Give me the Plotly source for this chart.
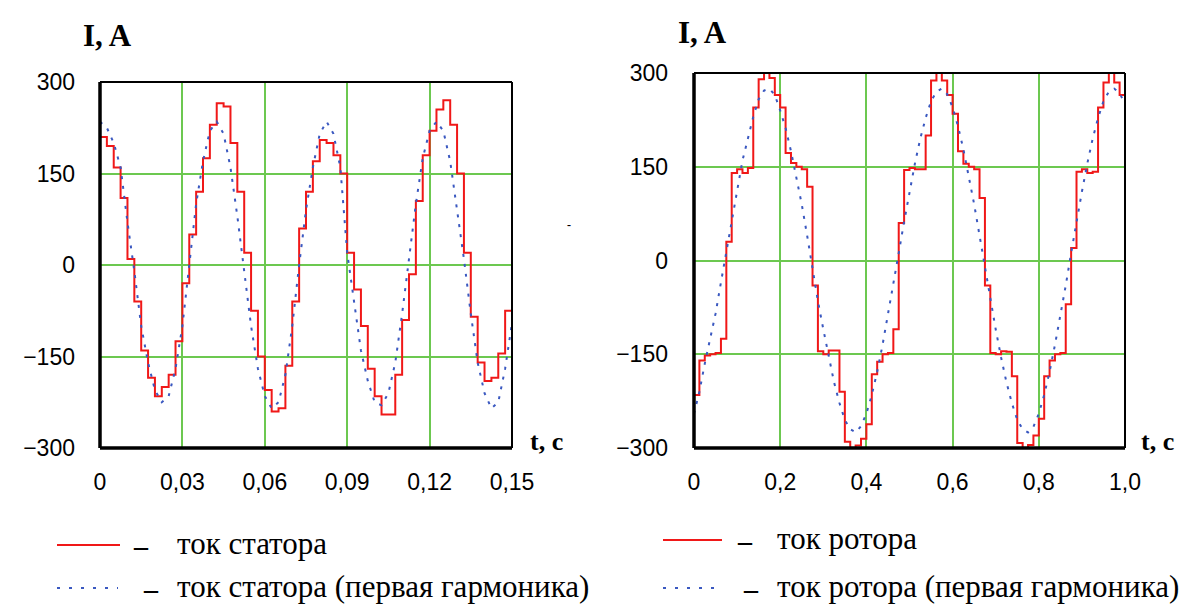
import plotly.graph_objects as go

# ---------------- data: stator (left panel) ----------------
t_stator = [i * 0.0025 for i in range(61)]  # time grid, s (0 ... 0.15)
i_stator = [210, 195, 160, 110, 10, -60, -140, -185, -215, -200,
            -180, -125, -30, 50, 120, 175, 230, 265, 260, 200,
            120, 20, -75, -150, -205, -240, -235, -165, -60, 60,
            120, 170, 205, 200, 180, 150, 20, -40, -100, -170,
            -215, -245, -245, -180, -90, -15, 105, 180, 220, 255,
            270, 230, 150, 20, -85, -160, -190, -185, -145, -75,
            -10]
i_stator_h1 = [235, 225, 200, 160, 70, -10, -100, -160, -205, -225,
               -215, -170, -100, 0, 100, 170, 220, 235, 215, 160,
               80, -10, -100, -170, -215, -235, -225, -180, -100, 0,
               90, 160, 215, 235, 215, 160, 20, -60, -140, -190,
               -225, -230, -210, -160, -80, 10, 100, 175, 220, 235,
               220, 170, 90, 10, -80, -160, -210, -235, -225, -170,
               -95]

# ---------------- data: rotor (right panel) ----------------
t_rotor = [i * 0.0125 for i in range(81)]  # time grid, s (0 ... 1.0)
i_rotor = [-215, -160, -152, -150, -148, -125, 30, 140, 146, 140,
           148, 245, 290, 300, 292, 265, 245, 172, 156, 150,
           146, 118, -40, -145, -150, -144, -144, -210, -290, -300,
           -296, -285, -262, -182, -162, -150, -148, -110, 60, 145,
           148, 146, 146, 200, 288, 300, 288, 265, 235, 175,
           155, 150, 146, 100, -40, -148, -150, -145, -146, -185,
           -292, -300, -295, -280, -253, -185, -160, -150, -148, -70,
           20, 142, 146, 140, 142, 245, 285, 302, 285, 265,
           247]
i_rotor_h1 = [-245, -210, -165, -125, -85, -35, 15, 65, 115, 160,
              195, 230, 258, 272, 275, 265, 240, 212, 175, 135,
              90, 40, -15, -65, -110, -155, -195, -228, -255, -270,
              -275, -265, -245, -215, -178, -135, -88, -40, 12, 62,
              110, 155, 195, 228, 255, 270, 275, 266, 245, 215,
              178, 135, 90, 40, -12, -62, -110, -155, -195, -228,
              -255, -270, -275, -266, -245, -215, -178, -135, -90, -40,
              12, 62, 110, 155, 195, 228, 255, 270, 275, 268,
              250]

# ---------------- tick labels ----------------
x1_ticks = [0, 0.03, 0.06, 0.09, 0.12, 0.15]
x1_text = ["0", "0,03", "0,06", "0,09", "0,12", "0,15"]
x2_ticks = [0, 0.2, 0.4, 0.6, 0.8, 1.0]
x2_text = ["0", "0,2", "0,4", "0,6", "0,8", "1,0"]
y_ticks = [-300, -150, 0, 150, 300]
y_text = ["\u2212300", "\u2212150", "0", "150", "300"]

legend_left = ["ток статора", "ток статора (первая гармоника)"]
legend_right = ["ток ротора", "ток ротора (первая гармоника)"]

RED = "#f01818"
BLUE = "#3a58c0"
GREEN = "#6cc850"
OFF = 8  # page body margin
W, H = 1187 - OFF, 610 - OFF

TICKFONT = dict(family="Liberation Sans, Arial, sans-serif", size=23, color="black")
SERIF = "Liberation Serif, Times New Roman, serif"

fig = go.Figure()
fig.add_trace(go.Scatter(x=t_stator, y=i_stator, mode="lines", line=dict(color=RED, width=2, shape="hv"),
                         xaxis="x", yaxis="y", showlegend=False))
fig.add_trace(go.Scatter(x=t_stator, y=i_stator_h1, mode="lines",
                         line=dict(color=BLUE, width=2, dash="3px,7px"),
                         xaxis="x", yaxis="y", showlegend=False))
fig.add_trace(go.Scatter(x=t_rotor, y=i_rotor, mode="lines", line=dict(color=RED, width=2, shape="hv"),
                         xaxis="x2", yaxis="y2", showlegend=False))
fig.add_trace(go.Scatter(x=t_rotor, y=i_rotor_h1, mode="lines",
                         line=dict(color=BLUE, width=2, dash="3px,7px"),
                         xaxis="x2", yaxis="y2", showlegend=False))


def px_x(p):
    return (p - OFF) / W


def px_y(p):
    return 1 - (p - OFF) / H


common_axis = dict(showgrid=True, gridcolor=GREEN, gridwidth=2, zeroline=False, automargin=False,
                   showline=False, ticks="", tickfont=TICKFONT)

fig.update_layout(
    width=W, height=H, margin=dict(l=0, r=0, t=0, b=0, pad=0, autoexpand=False),
    paper_bgcolor="white", plot_bgcolor="white",
    xaxis=dict(domain=[px_x(100), px_x(512)], range=[0, 0.15], tickvals=x1_ticks, ticktext=x1_text,
               anchor="y", ticklabelstandoff=18, **common_axis),
    yaxis=dict(domain=[px_y(448), px_y(82)], range=[-300, 300], tickvals=y_ticks, ticktext=y_text,
               anchor="x", ticklabelstandoff=24, **common_axis),
    xaxis2=dict(domain=[px_x(694), px_x(1125)], range=[0, 1.0], tickvals=x2_ticks, ticktext=x2_text,
                anchor="y2", ticklabelstandoff=18, **common_axis),
    yaxis2=dict(domain=[px_y(448), px_y(73)], range=[-300, 300], tickvals=y_ticks, ticktext=y_text,
                anchor="x2", ticklabelstandoff=25, **common_axis),
)

# frames: thick left/bottom, thinner top/right
shapes = []
for xa, ya in (("x", "y"), ("x2", "y2")):
    xr, yr = xa + " domain", ya + " domain"
    shapes += [
        dict(type="line", xref=xr, yref=yr, x0=0, x1=0, y0=0, y1=1, line=dict(color="black", width=3.5)),
        dict(type="line", xref=xr, yref=yr, x0=0, x1=1, y0=0, y1=0, line=dict(color="black", width=3.5)),
        dict(type="line", xref=xr, yref=yr, x0=0, x1=1, y0=1, y1=1, line=dict(color="black", width=2)),
        dict(type="line", xref=xr, yref=yr, x0=1, x1=1, y0=0, y1=1, line=dict(color="black", width=2)),
    ]


# legend keys
def key(x0, x1, y, color, dash):
    return dict(type="line", xref="paper", yref="paper", x0=px_x(x0), x1=px_x(x1), y0=px_y(y), y1=px_y(y),
                line=dict(color=color, width=2, dash=dash))


shapes += [key(57, 120, 545, RED, "solid"), key(57, 118, 588, BLUE, "3px,9px"),
           key(663, 722, 540, RED, "solid"), key(663, 720, 588, BLUE, "3px,9px")]
fig.update_layout(shapes=shapes)

ann = []


def text(x, y, s, size, family, bold=False, anchor="left"):
    ann.append(dict(xref="paper", yref="paper", x=px_x(x), y=px_y(y), text=("<b>%s</b>" % s) if bold else s,
                    showarrow=False, xanchor=anchor, yanchor="middle",
                    font=dict(family=family, size=size, color="black")))


text(107, 35, "I, A", 31, SERIF, bold=True, anchor="center")
text(702, 33, "I, A", 31, SERIF, bold=True, anchor="center")
text(546, 441, "t, c", 26, SERIF, bold=True, anchor="center")
text(1157, 441, "t, c", 26, SERIF, bold=True, anchor="center")
text(569, 225, "-", 12, SERIF, bold=True, anchor="center")

text(141, 545, "\u2013", 28, SERIF, bold=True, anchor="center")
text(151, 588, "\u2013", 28, SERIF, bold=True, anchor="center")
text(175, 543, legend_left[0], 31, SERIF)
text(175, 586, legend_left[1], 31, SERIF)
text(745, 540, "\u2013", 28, SERIF, bold=True, anchor="center")
text(751, 588, "\u2013", 28, SERIF, bold=True, anchor="center")
text(775, 538, legend_right[0], 31, SERIF)
text(775, 586, legend_right[1], 31, SERIF)
fig.update_layout(annotations=ann)

fig.write_html("out.html")
